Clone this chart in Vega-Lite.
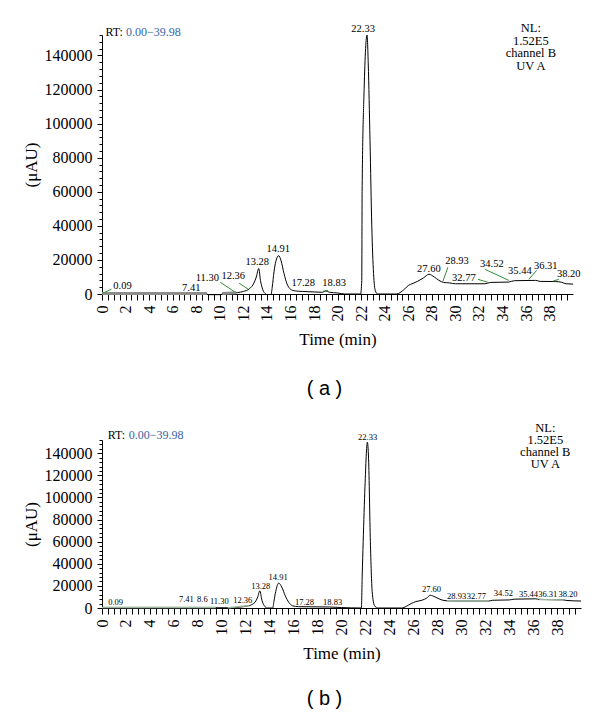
{
  "$schema": "https://vega.github.io/schema/vega-lite/v6.json",
  "background": "white",
  "padding": {"left": 22, "top": 21, "right": 5, "bottom": 5},
  "spacing": 22,
  "datasets": {
    "traceA": [
      {"t": 0, "v": 300}, {"t": 8.9, "v": 300}, {"t": 9.0, "v": -400}, {"t": 10.1, "v": -400}, {"t": 10.2, "v": 300},
      {"t": 11.0, "v": 500}, {"t": 11.5, "v": 800}, {"t": 12.0, "v": 1500}, {"t": 12.5, "v": 3000}, {"t": 12.9, "v": 6500},
      {"t": 13.1, "v": 10000}, {"t": 13.3, "v": 15000}, {"t": 13.45, "v": 8000}, {"t": 13.65, "v": 2500}, {"t": 13.9, "v": 0},
      {"t": 14.0, "v": -300}, {"t": 14.35, "v": -300}, {"t": 14.45, "v": 4000}, {"t": 14.6, "v": 13000}, {"t": 14.75, "v": 19000},
      {"t": 15.0, "v": 22500}, {"t": 15.2, "v": 19500}, {"t": 15.45, "v": 12000}, {"t": 15.7, "v": 6000}, {"t": 16.0, "v": 2800},
      {"t": 16.4, "v": 1800}, {"t": 17.0, "v": 1500}, {"t": 18.0, "v": 1200}, {"t": 18.7, "v": 1000}, {"t": 19.0, "v": 1800},
      {"t": 19.3, "v": 1000}, {"t": 20.0, "v": 600}, {"t": 20.6, "v": 0}, {"t": 21.95, "v": 0}, {"t": 22.05, "v": 8000},
      {"t": 22.08, "v": 60000}, {"t": 22.25, "v": 120000}, {"t": 22.5, "v": 152000}, {"t": 22.6, "v": 135000}, {"t": 22.75, "v": 90000},
      {"t": 22.9, "v": 40000}, {"t": 23.05, "v": 12000}, {"t": 23.2, "v": 2000}, {"t": 23.4, "v": 0}, {"t": 25.0, "v": 0},
      {"t": 25.3, "v": 800}, {"t": 25.7, "v": 3000}, {"t": 26.0, "v": 5000}, {"t": 26.4, "v": 6200}, {"t": 26.8, "v": 7500},
      {"t": 27.3, "v": 9500}, {"t": 27.75, "v": 11600}, {"t": 28.2, "v": 10000}, {"t": 28.6, "v": 8000}, {"t": 29.0, "v": 6800},
      {"t": 29.5, "v": 6500}, {"t": 30.0, "v": 6000}, {"t": 32.5, "v": 6000}, {"t": 33.0, "v": 6800}, {"t": 34.5, "v": 7000},
      {"t": 35.0, "v": 7800}, {"t": 36.8, "v": 8000}, {"t": 37.2, "v": 7400}, {"t": 38.5, "v": 7300}, {"t": 39.0, "v": 6900},
      {"t": 39.4, "v": 6000}, {"t": 39.98, "v": 5800}
    ],
    "baseA": [
      {"t": 0, "v": 300, "seg": 1}, {"t": 8.9, "v": 300, "seg": 1},
      {"t": 10.2, "v": 300, "seg": 2}, {"t": 11.4, "v": 700, "seg": 2}
    ],
    "labelsA": [
      {"t": 1.74, "v": 2800, "label": "0.09"}, {"t": 7.58, "v": 1600, "label": "7.41"}, {"t": 8.94, "v": 7500, "label": "11.30"},
      {"t": 11.14, "v": 8600, "label": "12.36"}, {"t": 13.18, "v": 16900, "label": "13.28"}, {"t": 14.96, "v": 24500, "label": "14.91"},
      {"t": 17.08, "v": 4500, "label": "17.28"}, {"t": 19.7, "v": 4500, "label": "18.83"}, {"t": 22.16, "v": 153800, "label": "22.33"},
      {"t": 27.75, "v": 12700, "label": "27.60"}, {"t": 30.13, "v": 17400, "label": "28.93"}, {"t": 30.72, "v": 7500, "label": "32.77"},
      {"t": 33.09, "v": 15700, "label": "34.52"}, {"t": 35.47, "v": 11600, "label": "35.44"}, {"t": 37.67, "v": 14500, "label": "36.31"},
      {"t": 39.62, "v": 9800, "label": "38.20"}
    ],
    "leadersA": [
      {"t": 0.04, "v": 400, "t2": 0.8, "v2": 2800}, {"t": 10.04, "v": 6900, "t2": 11.31, "v2": 1000},
      {"t": 11.65, "v": 6300, "t2": 12.42, "v2": 2800}, {"t": 18.77, "v": 1600, "t2": 19.19, "v2": 2200},
      {"t": 29.36, "v": 15700, "t2": 28.94, "v2": 7500}, {"t": 31.91, "v": 8600, "t2": 32.75, "v2": 6900},
      {"t": 32.5, "v": 14500, "t2": 34.53, "v2": 8000}, {"t": 36.9, "v": 13900, "t2": 36.23, "v2": 8600},
      {"t": 38.77, "v": 8600, "t2": 38.26, "v2": 7500}
    ],
    "metaA": [
      {"t": 0.3, "v": 151400, "txt": "RT:", "kind": "rt"},
      {"t": 2.04, "v": 151400, "txt": "0.00−39.98", "kind": "range"},
      {"t": 36.4, "v": 153800, "txt": "NL:\n1.52E5\nchannel B\nUV A", "kind": "nl"}
    ],
    "traceB": [
      {"t": 0, "v": 500}, {"t": 9.5, "v": 500}, {"t": 9.6, "v": 200}, {"t": 11.0, "v": 200}, {"t": 11.5, "v": 800},
      {"t": 12.0, "v": 1500}, {"t": 12.5, "v": 3000}, {"t": 12.85, "v": 6500}, {"t": 13.0, "v": 10000}, {"t": 13.17, "v": 15500},
      {"t": 13.35, "v": 7000}, {"t": 13.55, "v": 2000}, {"t": 13.8, "v": 0}, {"t": 14.25, "v": 0}, {"t": 14.35, "v": 6000},
      {"t": 14.5, "v": 15000}, {"t": 14.75, "v": 22500}, {"t": 15.0, "v": 19000}, {"t": 15.3, "v": 11000}, {"t": 15.6, "v": 5000},
      {"t": 15.9, "v": 2000}, {"t": 16.4, "v": 1200}, {"t": 19.0, "v": 900}, {"t": 20.0, "v": 400}, {"t": 21.65, "v": 0},
      {"t": 21.72, "v": 30000}, {"t": 21.8, "v": 60000}, {"t": 21.95, "v": 110000}, {"t": 22.15, "v": 150000}, {"t": 22.25, "v": 135000},
      {"t": 22.4, "v": 60000}, {"t": 22.55, "v": 15000}, {"t": 22.75, "v": 2000}, {"t": 23.0, "v": 0}, {"t": 25.0, "v": 0},
      {"t": 25.4, "v": 1500}, {"t": 25.8, "v": 4000}, {"t": 26.2, "v": 5800}, {"t": 26.7, "v": 7000}, {"t": 27.1, "v": 9000},
      {"t": 27.4, "v": 11500}, {"t": 27.8, "v": 10000}, {"t": 28.3, "v": 7500}, {"t": 28.8, "v": 6500}, {"t": 30.0, "v": 6300},
      {"t": 32.3, "v": 6300}, {"t": 32.6, "v": 7000}, {"t": 34.0, "v": 7300}, {"t": 34.4, "v": 8000}, {"t": 36.2, "v": 8300},
      {"t": 36.5, "v": 7800}, {"t": 38.5, "v": 7300}, {"t": 38.8, "v": 6800}, {"t": 39.98, "v": 6300}
    ],
    "baseB": [
      {"t": 0, "v": 500, "seg": 1}, {"t": 9.5, "v": 500, "seg": 1},
      {"t": 10.5, "v": 300, "seg": 2}, {"t": 12.3, "v": 2200, "seg": 2},
      {"t": 28.8, "v": 6500, "seg": 3}, {"t": 30.0, "v": 6300, "seg": 3}, {"t": 32.3, "v": 6300, "seg": 3},
      {"t": 36.5, "v": 7800, "seg": 4}, {"t": 38.5, "v": 7300, "seg": 4}
    ],
    "labelsB": [
      {"t": 1.14, "v": 3100, "label": "0.09"}, {"t": 7.04, "v": 5400, "label": "7.41"}, {"t": 8.38, "v": 5400, "label": "8.6"},
      {"t": 9.79, "v": 3600, "label": "11.30"}, {"t": 11.75, "v": 4800, "label": "12.36"}, {"t": 13.25, "v": 17300, "label": "13.28"},
      {"t": 14.7, "v": 25500, "label": "14.91"}, {"t": 16.9, "v": 3100, "label": "17.28"}, {"t": 19.25, "v": 3100, "label": "18.83"},
      {"t": 22.17, "v": 152200, "label": "22.33"}, {"t": 27.5, "v": 14400, "label": "27.60"}, {"t": 29.6, "v": 8500, "label": "28.93"},
      {"t": 31.25, "v": 8500, "label": "32.77"}, {"t": 33.5, "v": 10800, "label": "34.52"}, {"t": 35.6, "v": 9600, "label": "35.44"},
      {"t": 37.2, "v": 9600, "label": "36.31"}, {"t": 38.9, "v": 9600, "label": "38.20"}
    ],
    "metaB": [
      {"t": 0.48, "v": 153000, "txt": "RT:", "kind": "rt"},
      {"t": 2.23, "v": 153000, "txt": "0.00−39.98", "kind": "range"},
      {"t": 37.0, "v": 159600, "txt": "NL:\n1.52E5\nchannel B\nUV A", "kind": "nl"}
    ]
  },
  "vconcat": [
    {
      "width": 471,
      "height": 259,
      "title": {"text": "( a )", "orient": "bottom", "frame": "group", "anchor": "middle", "dx": -13, "offset": 32},
      "resolve": {"axis": {"y": "independent"}},
      "layer": [
        {
          "data": {"name": "traceA"},
          "mark": {"type": "line", "color": "black", "strokeWidth": 1, "interpolate": "monotone", "clip": false},
          "encoding": {
            "x": {"field": "t", "type": "quantitative", "scale": {"domain": [0, 39.98], "nice": false, "zero": false},
              "axis": {"title": "Time (min)", "tickCount": 80, "labelExpr": "datum.value % 2 === 0 ? format(datum.value, 'd') : ''",
                "labelAngle": -90, "labelAlign": "right", "labelBaseline": "middle", "labelOverlap": false, "labelFlush": false,
                "tickSize": 6, "labelPadding": 5, "titlePadding": 10}},
            "y": {"field": "v", "type": "quantitative", "scale": {"domain": [0, 152000], "nice": false},
              "axis": {"title": "(μAU)", "format": "d",
                "values": [0,4000,8000,12000,16000,20000,24000,28000,32000,36000,40000,44000,48000,52000,56000,60000,64000,68000,72000,76000,80000,84000,88000,92000,96000,100000,104000,108000,112000,116000,120000,124000,128000,132000,136000,140000,144000,148000,152000],
                "labelExpr": "datum.value % 20000 === 0 ? datum.label : ''",
                "tickSize": {"condition": {"test": "datum.value % 20000 === 0", "value": 5}, "value": 3},
                "labelOverlap": false, "labelPadding": 5, "titlePadding": 4}}
          }
        },
        {
          "data": {"name": "baseA"},
          "mark": {"type": "line", "color": "#8c8c8c", "strokeWidth": 3},
          "encoding": {
            "x": {"field": "t", "type": "quantitative"},
            "y": {"field": "v", "type": "quantitative", "axis": null},
            "detail": {"field": "seg", "type": "nominal"}
          }
        },
        {
          "data": {"name": "leadersA"},
          "mark": {"type": "rule", "color": "#2f8f2f", "strokeWidth": 1},
          "encoding": {
            "x": {"field": "t", "type": "quantitative"}, "y": {"field": "v", "type": "quantitative", "axis": null},
            "x2": {"field": "t2"}, "y2": {"field": "v2"}
          }
        },
        {
          "data": {"name": "labelsA"},
          "mark": {"type": "text", "font": "Liberation Serif", "fontSize": 10.5, "color": "black", "align": "center", "baseline": "alphabetic"},
          "encoding": {"x": {"field": "t", "type": "quantitative"}, "y": {"field": "v", "type": "quantitative", "axis": null}, "text": {"field": "label"}}
        },
        {
          "data": {"name": "metaA"},
          "transform": [{"filter": "datum.kind !== 'nl'"}],
          "mark": {"type": "text", "font": "Liberation Serif", "fontSize": 12, "align": "left", "baseline": "alphabetic"},
          "encoding": {"x": {"field": "t", "type": "quantitative"}, "y": {"field": "v", "type": "quantitative", "axis": null}, "text": {"field": "txt"},
            "color": {"field": "kind", "type": "nominal", "scale": {"domain": ["rt", "range"], "range": ["black", "#3465a4"]}, "legend": null}}
        },
        {
          "data": {"name": "metaA"},
          "transform": [{"filter": "datum.kind === 'nl'"}],
          "mark": {"type": "text", "font": "Liberation Serif", "fontSize": 12.5, "align": "center", "baseline": "alphabetic", "lineBreak": "\n", "lineHeight": 12.7, "color": "black"},
          "encoding": {"x": {"field": "t", "type": "quantitative"}, "y": {"field": "v", "type": "quantitative", "axis": null}, "text": {"field": "txt"}}
        }
      ]
    },
    {
      "width": 479,
      "height": 168,
      "title": {"text": "( b )", "orient": "bottom", "frame": "group", "anchor": "middle", "dx": -17, "offset": 28},
      "resolve": {"axis": {"y": "independent"}},
      "layer": [
        {
          "data": {"name": "traceB"},
          "mark": {"type": "line", "color": "black", "strokeWidth": 1, "interpolate": "monotone", "clip": false},
          "encoding": {
            "x": {"field": "t", "type": "quantitative", "scale": {"domain": [0, 39.98], "nice": false, "zero": false},
              "axis": {"title": "Time (min)", "tickCount": 80, "labelExpr": "datum.value % 2 === 0 ? format(datum.value, 'd') : ''",
                "labelAngle": -90, "labelAlign": "right", "labelBaseline": "middle", "labelOverlap": false, "labelFlush": false,
                "tickSize": 6, "labelPadding": 5, "titlePadding": 10}},
            "y": {"field": "v", "type": "quantitative", "scale": {"domain": [0, 152000], "nice": false},
              "axis": {"title": "(μAU)", "format": "d",
                "values": [0,4000,8000,12000,16000,20000,24000,28000,32000,36000,40000,44000,48000,52000,56000,60000,64000,68000,72000,76000,80000,84000,88000,92000,96000,100000,104000,108000,112000,116000,120000,124000,128000,132000,136000,140000,144000,148000,152000],
                "labelExpr": "datum.value % 20000 === 0 ? datum.label : ''",
                "tickSize": {"condition": {"test": "datum.value % 20000 === 0", "value": 5}, "value": 3},
                "labelOverlap": false, "labelPadding": 5, "titlePadding": 4}}
          }
        },
        {
          "data": {"name": "baseB"},
          "mark": {"type": "line", "color": "#9db59d", "strokeWidth": 1.5},
          "encoding": {
            "x": {"field": "t", "type": "quantitative"},
            "y": {"field": "v", "type": "quantitative", "axis": null},
            "detail": {"field": "seg", "type": "nominal"}
          }
        },
        {
          "data": {"name": "labelsB"},
          "mark": {"type": "text", "font": "Liberation Serif", "fontSize": 8.5, "color": "black", "align": "center", "baseline": "alphabetic"},
          "encoding": {"x": {"field": "t", "type": "quantitative"}, "y": {"field": "v", "type": "quantitative", "axis": null}, "text": {"field": "label"}}
        },
        {
          "data": {"name": "metaB"},
          "transform": [{"filter": "datum.kind !== 'nl'"}],
          "mark": {"type": "text", "font": "Liberation Serif", "fontSize": 12, "align": "left", "baseline": "alphabetic"},
          "encoding": {"x": {"field": "t", "type": "quantitative"}, "y": {"field": "v", "type": "quantitative", "axis": null}, "text": {"field": "txt"},
            "color": {"field": "kind", "type": "nominal", "scale": {"domain": ["rt", "range"], "range": ["black", "#3465a4"]}, "legend": null}}
        },
        {
          "data": {"name": "metaB"},
          "transform": [{"filter": "datum.kind === 'nl'"}],
          "mark": {"type": "text", "font": "Liberation Serif", "fontSize": 12.5, "align": "center", "baseline": "alphabetic", "lineBreak": "\n", "lineHeight": 12.3, "color": "black"},
          "encoding": {"x": {"field": "t", "type": "quantitative"}, "y": {"field": "v", "type": "quantitative", "axis": null}, "text": {"field": "txt"}}
        }
      ]
    }
  ],
  "resolve": {"scale": {"color": "independent"}},
  "config": {
    "view": {"stroke": null},
    "axis": {"domainColor": "black", "tickColor": "black", "labelColor": "black", "titleColor": "black",
      "labelFont": "Liberation Serif", "titleFont": "Liberation Serif", "labelFontSize": 16, "titleFontSize": 17,
      "titleFontWeight": "normal", "grid": false, "domainWidth": 1, "tickWidth": 1},
    "title": {"font": "Liberation Sans", "fontSize": 20, "fontWeight": "normal", "color": "black"}
  }
}
